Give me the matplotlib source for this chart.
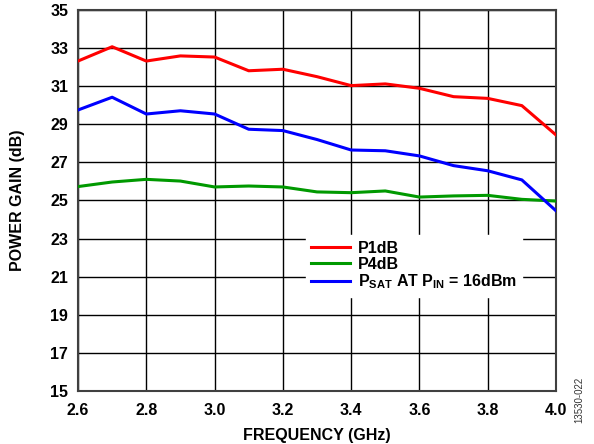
import numpy as np
import matplotlib.pyplot as plt

plt.rcParams['font.family'] = ['Liberation Sans', 'DejaVu Sans']
plt.rcParams['mathtext.fontset'] = 'custom'
plt.rcParams['mathtext.rm'] = 'Liberation Sans:bold'
plt.rcParams['mathtext.bf'] = 'Liberation Sans:bold'

freq = [2.6, 2.7, 2.8, 2.9, 3.0, 3.1, 3.2, 3.3, 3.4, 3.5, 3.6, 3.7, 3.8, 3.9, 4.0]
p1db = [32.32, 33.07, 32.32, 32.59, 32.53, 31.81, 31.89, 31.50, 31.03, 31.12,
        30.89, 30.45, 30.36, 29.98, 28.44]
p4db = [25.73, 25.97, 26.11, 26.02, 25.71, 25.76, 25.71, 25.45, 25.41, 25.50,
        25.18, 25.24, 25.27, 25.06, 24.97]
psat = [29.75, 30.42, 29.54, 29.71, 29.54, 28.74, 28.67, 28.20, 27.65, 27.61,
        27.34, 26.83, 26.56, 26.08, 24.46]

xticks = [2.6, 2.8, 3.0, 3.2, 3.4, 3.6, 3.8, 4.0]
yticks = list(range(15, 36, 2))

fs = 11.5

fig = plt.figure(figsize=(5.94, 4.44), dpi=100)
ax = fig.add_axes([0.1313, 0.1194, 0.8047, 0.8581])

ax.plot(freq, p1db, color='#ff0000', lw=2.2, label='P1dB', zorder=3)
ax.plot(freq, p4db, color='#009900', lw=2.2, label='P4dB', zorder=3)
ax.plot(freq, psat, color='#0000ff', lw=2.2,
        label=r'P$_{\mathbf{SAT}}$ AT P$_{\mathbf{IN}}$ = 16dBm', zorder=3)

ax.set_xlim(2.6, 4.0)
ax.set_ylim(15, 35)
ax.set_xticks(xticks)
ax.set_yticks(yticks)
ax.set_xticklabels([f'{v:.1f}' for v in xticks], fontweight='bold', fontsize=fs)
ax.set_yticklabels([str(v) for v in yticks], fontweight='bold', fontsize=fs)
ax.tick_params(axis='x', length=0, pad=9)
ax.tick_params(axis='y', length=0, pad=7)
ax.grid(True, color='black', lw=1.0)
ax.set_axisbelow(True)
for s in ax.spines.values():
    s.set_color('#404040')
    s.set_linewidth(1.5)

ax.set_xlabel('FREQUENCY (GHz)', fontweight='bold', fontsize=fs, labelpad=7)
ax.set_ylabel('POWER GAIN (dB)', fontweight='bold', fontsize=fs, labelpad=18)

# legend box is white with no border so it hides the grid behind it
leg = ax.legend(loc='lower left', bbox_to_anchor=(0.46, 0.226), frameon=True,
                fancybox=False, framealpha=1, edgecolor='white',
                prop={'weight': 'bold', 'size': fs},
                handlelength=2.4, handletextpad=0.5, labelspacing=0.05,
                borderpad=0.35)
leg.set_zorder(5)

fig.text(0.976, 0.10, '13530-022', rotation=90, fontsize=7, color='#333333',
         ha='center', va='center')

fig.savefig('out.png', dpi=100)
